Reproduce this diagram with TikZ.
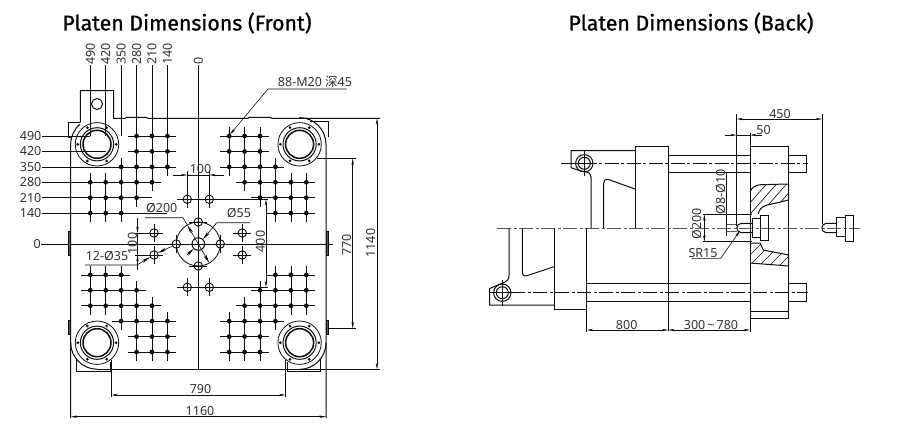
\documentclass[tikz,border=0pt]{standalone}
\usepackage{fontspec}
\setmainfont{Noto Sans}
\newfontfamily\titlefont[FakeBold=0.9]{Fira Sans}
\newfontfamily\cjkfont{Noto Sans CJK SC}
\usetikzlibrary{arrows.meta,calc}
\definecolor{ink}{gray}{0.05}
\definecolor{mid}{gray}{0.35}
\tikzset{
  thin line/.style={draw=ink,line width=0.6pt},
  thick line/.style={draw=ink,line width=1pt},
  centre line/.style={draw=mid,line width=0.8pt,dash pattern=on 14pt off 2.5pt on 3pt off 2.5pt},
  lab/.style={inner sep=0pt,font=\fontsize{12.5}{13}\selectfont,text=ink!85},
  rlab/.style={lab,rotate=90},
  ttl/.style={inner sep=0pt,font=\titlefont\fontsize{21.3}{23}\selectfont,text=black},
  dimarrow/.style={thin line,{Stealth[length=6.5pt,width=2.4pt]}-{Stealth[length=6.5pt,width=2.4pt]}},
  endarrow/.style={thin line,-{Stealth[length=6.5pt,width=2.4pt]}},
  boldend/.style={thin line,-{Stealth[length=9pt,width=3.2pt]}},
  boltdot/.style={fill=ink,draw=none},
}
\newcommand{\holecross}[2]{%
  \draw[thin line] (#1-9,#2)--(#1+9,#2) (#1,#2-9)--(#1,#2+9);
  \draw[draw=ink,line width=0.9pt] (#1,#2) circle (4.2);
}
\newcommand{\tiebar}[2]{%
  \draw[thin line,line width=0.8pt] (#1,#2) circle (21.7);
  \draw[thick line,line width=1pt] (#1,#2) circle (16.6);
  \draw[thick line,line width=1.5pt] (#1,#2) circle (14);
  \foreach \a in {0,60,...,300}{\fill[boltdot] ($(#1,#2)+(\a:19.2)$) circle (1.5);}
}
\begin{document}
\begin{tikzpicture}[x=1pt,y=-1pt]
\useasboundingbox (0,0) rectangle (900,434);
\fill[white] (0,0) rectangle (900,434);
\def\cx{198.3}\def\cy{244}\def\st{15.43}

\node[ttl] (titlefront) at (187,23) {Platen Dimensions (Front)};
\node[ttl] (titleback) at (691,23) {Platen Dimensions (Back)};

%% ---------- front: bolt grid
\foreach \sx in {-1,1}\foreach \sy in {-1,1}{
  \foreach \r/\a/\b in {7/2/4,6/2/4,5/2/5,4/3/7,3/4/7,2/5/7}{
    \draw[thin line] ({\cx+\sx*(\a*\st-9)},{\cy+\sy*\r*\st})--({\cx+\sx*(\b*\st+9)},{\cy+\sy*\r*\st});
  }
  \foreach \c/\a/\b in {2/5/7,3/4/7,4/3/7,5/2/5,6/2/4,7/2/4}{
    \draw[thin line] ({\cx+\sx*\c*\st},{\cy+\sy*(\a*\st-9)})--({\cx+\sx*\c*\st},{\cy+\sy*(\b*\st+9)});
  }
  \foreach \r/\a/\b in {7/2/4,6/2/4,5/2/5,4/3/7,3/4/7,2/5/7}{
    \foreach \c in {\a,...,\b}{
      \fill[boltdot] ({\cx+\sx*\c*\st},{\cy+\sy*\r*\st}) circle (2.4);
    }
  }
}
%% labelled extension lines
\foreach \r/\t in {7/490,6/420,5/350,4/280,3/210,2/140}{
  \node[lab,anchor=east] (row\t) at (41.5,{\cy-\r*\st}) {\t};
  \draw[thin line] (row\t.east)--({\cx-\r*\st},{\cy-\r*\st});
}
\foreach \c/\t in {7/490,6/420,5/350,4/280,3/210,2/140}{
  \node[rlab,anchor=west] (col\t) at ({\cx-\c*\st},65) {\t};
  \draw[thin line] (col\t.west)--({\cx-\c*\st},{\cy-7*\st});
}
\node[rlab,anchor=west] (colzero) at (\cx,65) {0};
\node[lab,anchor=east] (rowzero) at (41,\cy) {0};
\draw[thin line] (colzero.west)--(\cx,369);
\draw[thin line] (rowzero.east)--(332.7,\cy);

%% ---------- front: plate outline
\begin{scope}[thick line]
  \draw (70.7,418)--(70.7,144.3) arc (-180:-130:26.3);
  \draw (326,418)--(326,144.3) arc (0:-90:26.7);
  \draw (80.3,122.7)--(80.3,90.7)--(113.7,90.7)--(113.7,118.3)--(125,118.3)--(127,117.3)--(146,117.3)--(148,118.3)--(248,118.3)--(250,117.3)--(270,117.3)--(272,118.3)--(380,118.3);
  \draw (70.7,137)--(68.5,137)--(68.5,122.7)--(80.3,122.7);
  \draw (310,121.7)--(328.3,121.7)--(328.3,137);
  \draw (70.7,342.7) arc (180:90:26.5);
  \draw (97,369.3)--(380,369.3);
  \draw (326,342.7) arc (0:90:26.7);
  \draw (76,358)--(76,371.7)--(110,371.7)--(110,362);
  \draw (287.3,362)--(287.3,371.7)--(320.7,371.7)--(320.7,358);
  \foreach \t/\b in {231.7/255,320/334}{
    \draw[fill=mid] (68.5,\t) rectangle (70.7,\b);
    \draw[fill=mid] (326,\t) rectangle (328.3,\b);
  }
\end{scope}
\draw[thick line] (97,104) circle (5.5);
\tiebar{97}{144.3}\tiebar{299.6}{144.3}\tiebar{97}{342.7}\tiebar{299.6}{342.7}

%% ---------- front: centre holes
\draw[thin line,line width=0.8pt] (\cx,\cy) circle (22);
\draw[thick line] (\cx,\cy) circle (6.3);
\draw[thin line] (176.7,199.3)--(268,199.3);
\draw[thin line] (176.7,287.3)--(268,287.3);
\foreach \x/\y in {187.3/199.3,209.3/199.3,187.3/287.3,209.3/287.3,154/233,154/255,242.3/233,242.3/255,176.3/244,220.3/244,198.3/222,198.3/266}{
  \holecross{\x}{\y}
}

%% ---------- front: dimensions
\coordinate (d100a) at (172.7,175);\coordinate (d100b) at (187.3,175);
\coordinate (d100c) at (209.3,175);\coordinate (d100d) at (223.5,175);
\draw[endarrow] (d100a)--(d100b);\draw[endarrow] (d100d)--(d100c);
\draw[thin line] (d100b)--(d100c) (187.3,171)--(187.3,208) (209.3,171)--(209.3,208);
\node[lab] (t100) at (200.5,169.5) {100};

\coordinate (l100a) at (137.5,218);\coordinate (l100b) at (137.5,233);
\coordinate (l100c) at (137.5,255);\coordinate (l100d) at (137.5,270);
\draw[endarrow] (l100a)--(l100b);\draw[endarrow] (l100d)--(l100c);
\draw[thin line] (l100b)--(l100c) (135,233)--(154,233) (135,255)--(154,255);
\node[rlab] (t100v) at (132.5,243.5) {100};

\coordinate (d400a) at (266,199.3);\coordinate (d400b) at (266,287.3);
\draw[dimarrow] (d400a)--(d400b);
\node[rlab] (t400) at (260.3,241.5) {400};

\coordinate (d770a) at (352.7,158.3);\coordinate (d770b) at (352.7,328.3);
\draw[dimarrow] (d770a)--(d770b);
\draw[thin line] (317,158.3)--(355.5,158.3) (328,328.3)--(355.5,328.3);
\node[rlab] (t770) at (346.7,245) {770};

\coordinate (d1140a) at (377,118.3);\coordinate (d1140b) at (377,369.3);
\draw[dimarrow] (d1140a)--(d1140b);
\node[rlab] (t1140) at (370.7,243) {1140};

\coordinate (d790a) at (111.3,395);\coordinate (d790b) at (285.5,395);
\draw[dimarrow] (d790a)--(d790b);
\draw[thin line] (111.3,360)--(111.3,397) (285.5,360)--(285.5,397);
\node[lab] (t790) at (200.5,389) {790};

\coordinate (d1160a) at (70.7,416.7);\coordinate (d1160b) at (326,416.7);
\draw[dimarrow] (d1160a)--(d1160b);
\node[lab] (t1160) at (200,411) {1160};

\node[lab] (tm20) at (315,81.5) {88-M20 {\cjkfont 深}45};
\coordinate (m20a) at (346.7,89);\coordinate (m20b) at (268,89);\coordinate (m20c) at (230,134.5);
\draw[endarrow] (m20a)--(m20b)--(m20c);

%% diameter 200: leader in from the left, then a diameter with a tip on the circle at each end
\node[lab] (tphi200) at (161.7,208.5) {Ø200};
\coordinate (p200a) at (145,217.7);\coordinate (p200b) at (183,217.7);
\coordinate (p200c) at (187.3,225);\coordinate (p200d) at (209.3,263);
\coordinate (p200m) at (\cx,\cy);
\draw[thin line] (p200a)--(p200b)--(p200c);
\draw[boldend] (p200m)--(p200c);
\draw[boldend] (p200m)--(p200d);

%% diameter 55: two tips pointing in at the centre hole
\node[lab] (tphi55) at (239,213) {Ø55};
\coordinate (p55a) at (250,222.7);\coordinate (p55b) at (216.7,222.7);
\coordinate (p55c) at (202.8,239.5);\coordinate (p55d) at (187,255);\coordinate (p55e) at (193.8,248.5);
\draw[boldend] (p55a)--(p55b)--(p55c);
\draw[boldend] (p55d)--(p55e);

%% 12 x 35: two tips pointing in at the lower left hole
\node[lab] (t1235) at (107,256.5) {12-Ø35};
\coordinate (p35a) at (85,265);\coordinate (p35b) at (137,265);\coordinate (p35c) at (150.3,257);
\coordinate (p35d) at (172.5,246);\coordinate (p35e) at (157.7,253);
\draw[boldend] (p35a)--(p35b)--(p35c);
\draw[boldend] (p35d)--(p35e);

%% ---------- back: centre lines
\draw[centre line] (497,228)--(860,228);
\draw[centre line,draw=ink] (560.7,163.3)--(808,163.3);
\draw[centre line,draw=ink] (489,292.7)--(808,292.7);

%% ---------- back: moving parts
\begin{scope}[thick line]
  \draw (635.7,228)--(635.7,146)--(668.3,146)--(668.3,331);
  \draw (635.7,150.7)--(571,150.7)--(571,167.7)--(580,170.7)--(586.7,172) .. controls (590,173) and (591,175) .. (591,177)--(591,228);
  \draw (603.7,228)--(603.7,183) .. controls (603.7,180) and (606,178.7) .. (608,179.3)--(635.7,189.3);
  \draw (554,228)--(554,309.3)--(586.7,309.3);
  \draw (586.7,228)--(586.7,331.6);
  \draw (509,228)--(509,275) .. controls (509,279) and (507.5,281) .. (505,282)--(489.7,288.5)--(489.7,305)--(554,305);
  \draw (522.3,228)--(522.3,271.7) .. controls (522.3,275) and (524,276.5) .. (527,275.7)--(554,266.7);
  \draw (668.3,155)--(750,155) (668.3,172.3)--(750,172.3);
  \draw (586.7,283.3)--(750,283.3) (586.7,301)--(750,301);
  \draw (750,146) rectangle (788.7,318.3);
  \draw (750,311.7)--(788.7,311.7);
  \draw (788.7,155)--(806,155)--(806,172.3)--(788.7,172.3);
  \draw (788.7,283.3)--(806,283.3)--(806,301)--(788.7,301);
\end{scope}
\foreach \x/\y in {584.3/163.3,502.3/292.7}{
  \draw[thin line] (\x-12,\y)--(\x+12,\y) (\x,\y-13)--(\x,\y+13);
  \draw[thick line] (\x,\y) circle (8.7);
  \draw[thick line] (\x,\y) circle (6);
}

%% ---------- back: hatched platen section
\begin{scope}
  \clip (750,191.7) .. controls (752,187) and (756,185) .. (761,184.7)--(788.7,184)--(788.7,200)--(775,203.3)--(767,205) .. controls (761,207) and (759,210) .. (758.3,214)--(750,214)--cycle;
  \foreach \i in {0,10,...,70}{\draw[thin line] (735+\i,220)--(770+\i,180);}
\end{scope}
\begin{scope}
  \clip (750,243)--(760,243)--(763.3,250)--(788.7,255)--(788.7,266)--(750,263)--cycle;
  \foreach \i in {0,10,...,70}{\draw[thin line] (725+\i,270)--(760+\i,235);}
\end{scope}
\draw[thick line] (750,191.7) .. controls (752,187) and (756,185) .. (761,184.7)--(788.7,184)--(788.7,200)--(775,203.3)--(767,205) .. controls (761,207) and (759,210) .. (758.3,214);
\draw[thick line] (752,243)--(760,243)--(763.3,250)--(788.7,255)--(788.7,266)--(750,263);

%% ---------- back: nozzle and seat
\begin{scope}[thick line]
  \draw (752,218.3) rectangle (760,237.7);
  \draw (760,215) rectangle (768.3,240.7);
  \draw (752,223.3)--(741.5,223.3) arc (-90:-270:4.7)--(752,232.7);
  \draw (836.7,223.3)--(826.5,223.3) arc (-90:-270:4.7)--(836.7,232.7);
  \draw (836.7,217.3) rectangle (845,236.7);
  \draw (845,215) rectangle (853.3,241);
\end{scope}
\draw[draw=mid,line width=0.8pt] (726.7,224.5)--(737,224.5) (726.7,231.5)--(737,231.5);

%% ---------- back: dimensions
\draw[thin line] (736.7,114)--(736.7,226) (822,114)--(822,224);
\coordinate (d450a) at (736.7,119);\coordinate (d450b) at (822,119);
\draw[dimarrow] (d450a)--(d450b);
\node[lab] (t450) at (780,114.5) {450};

\draw[thin line] (750,133)--(750,146) (750,318.3)--(750,331.6);
\coordinate (d50a) at (725,135);\coordinate (d50b) at (736.7,135);
\coordinate (d50c) at (750,135);\coordinate (d50d) at (761.7,135);
\draw[endarrow] (d50a)--(d50b);\draw[endarrow] (d50d)--(d50c);
\draw[thin line] (d50b)--(d50c);
\node[lab] (t50) at (763.5,130.5) {50};

\coordinate (d800a) at (586.7,330);\coordinate (d800b) at (668.3,330);
\draw[dimarrow] (d800a)--(d800b);
\node[lab] (t800) at (626.7,325) {800};
\coordinate (d300a) at (668.3,330);\coordinate (d300b) at (750,330);
\draw[dimarrow] (d300a)--(d300b);
\node[lab] (t300) at (711,325) {300\,\char"007E\,780};

\draw[thin line] (703,214.3)--(752,214.3) (703,241.7)--(752,241.7);
\coordinate (d200a) at (704.3,214.3);\coordinate (d200b) at (704.3,241.7);
\draw[dimarrow] (d200a)--(d200b);
\node[rlab] (tphi200b) at (696.7,224) {Ø200};

\draw[thin line] (726.7,173.3)--(726.7,236);
\draw[draw=ink,line width=1.4pt] (726.7,220)--(726.7,236);
\node[rlab] (tphi8) at (720.7,191.7) {Ø8-Ø10};

\node[lab] (tsr) at (703,252.7) {SR15};
\coordinate (sra) at (691.7,258.3);\coordinate (srb) at (720.7,258.3);\coordinate (src) at (740,230.7);
\draw[endarrow] (sra)--(srb)--(src);
\end{tikzpicture}
\end{document}
